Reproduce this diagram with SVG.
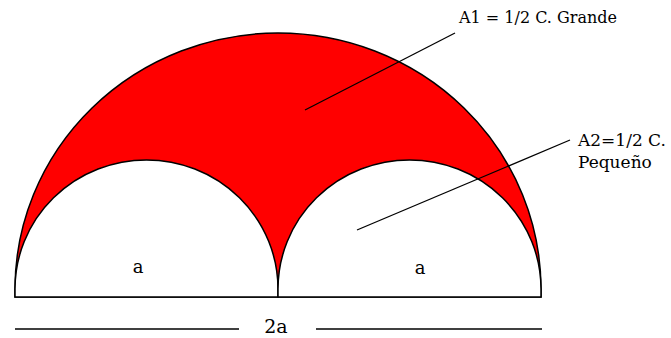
<svg xmlns="http://www.w3.org/2000/svg" width="671" height="338" viewBox="0 0 671 338">
<style>
.lbl{font-family:"DejaVu Serif","Liberation Serif",serif;font-size:16px;fill:#000}
.ln{stroke:#000;stroke-width:1.3;fill:none}
.out{stroke:#000;stroke-width:1.5}
</style>
<rect width="671" height="338" fill="#fff"/>
<g id="big-semicircle">
<path class="out" fill="#ff0000" d="M15,297 V289 A263,256 0 0 1 541,289 V297 Z"/>
</g>
<g id="small-left">
<path class="out" fill="#fff" d="M15,297 V289 A131.5,129 0 0 1 278,289 V297 Z"/>
</g>
<g id="small-right">
<path class="out" fill="#fff" d="M278,297 V289 A131.5,129 0 0 1 541,289 V297 Z"/>
</g>
<g id="connectors">
<line class="ln" x1="455" y1="33" x2="305" y2="110"/>
<line class="ln" x1="570" y1="140" x2="357" y2="230"/>
<line class="ln" x1="15" y1="329" x2="239" y2="329"/>
<line class="ln" x1="316" y1="329" x2="542" y2="329"/>
</g>
<g id="labels">
<text class="lbl" x="459" y="23">A1 = 1/2 C. Grande</text>
<text class="lbl" x="578" y="146" style="font-size:17px">A2=1/2 C.</text>
<text class="lbl" x="578" y="168" style="font-size:17px">Pequeño</text>
<text class="lbl" x="138" y="273" text-anchor="middle" style="font-size:18px">a</text>
<text class="lbl" x="420" y="274" text-anchor="middle" style="font-size:18px">a</text>
<text class="lbl" x="276" y="333" text-anchor="middle" style="font-size:19px">2a</text>
</g>
</svg>
